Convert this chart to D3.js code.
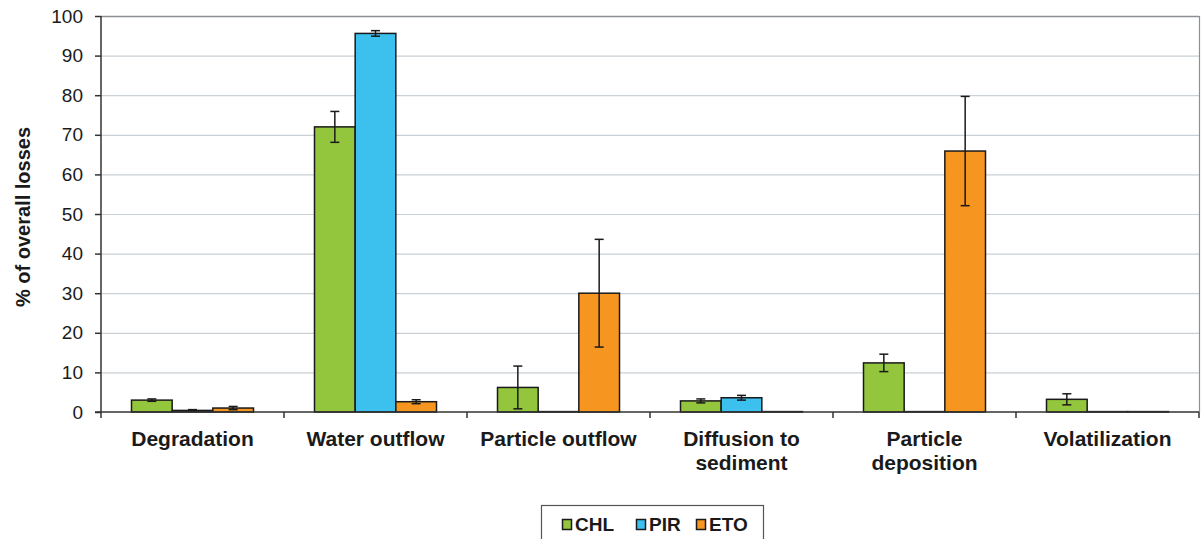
<!DOCTYPE html>
<html>
<head>
<meta charset="utf-8">
<script src="https://cdn.jsdelivr.net/npm/d3@7"></script>
<style>
  body { margin: 0; background: #fff; }
  svg { display: block; font-family: "Liberation Sans", Arial, sans-serif; }
</style>
</head>
<body>
<div id="container"></div>
<script>
// Chart data
const categories = ['Degradation', 'Water outflow', 'Particle outflow', 'Diffusion to sediment', 'Particle deposition', 'Volatilization'];
const categoryLines = [['Degradation'], ['Water outflow'], ['Particle outflow'], ['Diffusion to', 'sediment'], ['Particle', 'deposition'], ['Volatilization']];
const seriesNames = ['CHL', 'PIR', 'ETO'];
const chlValues = [3.0, 72.0, 6.2, 2.8, 12.4, 3.2];
const chlErrors = [0.3, 3.9, 5.4, 0.5, 2.2, 1.4];
const pirValues = [0.4, 95.6, 0.1, 3.6, 0.1, 0.1];
const pirErrors = [0.2, 0.7, 0, 0.6, 0, 0];
const etoValues = [1.0, 2.6, 30.0, 0.1, 65.9, 0.1];
const etoErrors = [0.4, 0.5, 13.6, 0, 13.8, 0];
const yTicks = [0, 10, 20, 30, 40, 50, 60, 70, 80, 90, 100];
const colors = ['#93c53d', '#3cc0ee', '#f6951f'];

const width = 1203;
const height = 539;

// plot area
const plot = { left: 101, right: 1199, top: 16, bottom: 412 };

const svg = d3.select('#container').append('svg')
    .attr('width', width)
    .attr('height', height);

const yScale = d3.scaleLinear()
    .domain([0, 100])
    .range([plot.bottom, plot.top]);

const xScale = d3.scaleBand()
    .domain(categories)
    .range([plot.left, plot.right]);

const seriesScale = d3.scaleBand()
    .domain(seriesNames)
    .range([0, xScale.bandwidth()])
    .paddingInner(0)
    .paddingOuter(0.75);

// gridlines
svg.append('g')
    .selectAll('line')
    .data(yTicks.filter(t => t > 0))
    .enter()
    .append('line')
    .attr('x1', plot.left)
    .attr('x2', plot.right)
    .attr('y1', d => yScale(d) + 0.5)
    .attr('y2', d => yScale(d) + 0.5)
    .attr('stroke', d => d === 100 ? '#8c8f93' : '#c9d0d6')
    .attr('stroke-width', d => d === 100 ? 1.5 : 1.2);

// right border
svg.append('line')
    .attr('x1', plot.right + 0.5).attr('x2', plot.right + 0.5)
    .attr('y1', plot.top).attr('y2', plot.bottom)
    .attr('stroke', '#8c8f93')
    .attr('stroke-width', 1.2);

// bars
const table = categories.map((c, i) => ({
    category: c,
    items: [
        { name: 'CHL', value: chlValues[i], err: chlErrors[i], color: colors[0] },
        { name: 'PIR', value: pirValues[i], err: pirErrors[i], color: colors[1] },
        { name: 'ETO', value: etoValues[i], err: etoErrors[i], color: colors[2] }
    ]
}));

const groups = svg.append('g')
    .selectAll('g')
    .data(table)
    .enter()
    .append('g')
    .attr('transform', d => 'translate(' + xScale(d.category) + ',0)');

groups.selectAll('rect')
    .data(d => d.items)
    .enter()
    .append('rect')
    .attr('x', d => seriesScale(d.name))
    .attr('y', d => yScale(d.value))
    .attr('width', seriesScale.bandwidth())
    .attr('height', d => yScale(0) - yScale(d.value))
    .attr('fill', d => d.color)
    .attr('stroke', '#1a1a1a')
    .attr('stroke-width', 1.5);

// error bars
const errs = groups.selectAll('g.err')
    .data(d => d.items.filter(e => e.err > 0))
    .enter()
    .append('g')
    .attr('class', 'err')
    .attr('stroke', '#1a1a1a')
    .attr('stroke-width', 1.5);

errs.append('line')
    .attr('x1', d => seriesScale(d.name) + seriesScale.bandwidth() / 2)
    .attr('x2', d => seriesScale(d.name) + seriesScale.bandwidth() / 2)
    .attr('y1', d => yScale(d.value + d.err))
    .attr('y2', d => yScale(Math.max(0, d.value - d.err)));

errs.selectAll('line.cap')
    .data(d => [
        { d: d, v: d.value + d.err },
        { d: d, v: Math.max(0, d.value - d.err) }
    ])
    .enter()
    .append('line')
    .attr('class', 'cap')
    .attr('x1', c => seriesScale(c.d.name) + seriesScale.bandwidth() / 2 - 4.5)
    .attr('x2', c => seriesScale(c.d.name) + seriesScale.bandwidth() / 2 + 4.5)
    .attr('y1', c => yScale(c.v))
    .attr('y2', c => yScale(c.v));

// Y-Axis
const yAxis = svg.append('g')
    .attr('transform', 'translate(' + plot.left + ',0)')
    .call(d3.axisLeft(yScale).tickValues(yTicks).tickSize(6).tickPadding(12));
yAxis.selectAll('path, line').attr('stroke', '#333').attr('stroke-width', 1.5);
yAxis.select('.domain').attr('d', 'M0,' + plot.top + 'V' + plot.bottom);
yAxis.selectAll('text')
    .attr('font-size', 19)
    .attr('font-family', '"Liberation Sans", Arial, sans-serif')
    .attr('fill', '#1a1a1a');

// X-Axis (ticks at category boundaries)
const xAxisG = svg.append('g');
xAxisG.append('line')
    .attr('x1', plot.left - 6).attr('x2', plot.right)
    .attr('y1', plot.bottom).attr('y2', plot.bottom)
    .attr('stroke', '#333').attr('stroke-width', 1.5);
xAxisG.selectAll('line.tick')
    .data(categories.map(c => xScale(c)).concat([plot.right]))
    .enter()
    .append('line')
    .attr('class', 'tick')
    .attr('x1', d => d).attr('x2', d => d)
    .attr('y1', plot.bottom).attr('y2', plot.bottom + 6)
    .attr('stroke', '#333').attr('stroke-width', 1.5);

// category labels
const labels = svg.append('g')
    .selectAll('text')
    .data(categories)
    .enter()
    .append('text')
    .attr('x', d => xScale(d) + xScale.bandwidth() / 2)
    .attr('y', 446)
    .attr('text-anchor', 'middle')
    .attr('font-size', 21)
    .attr('font-weight', 'bold')
    .attr('fill', '#1a1a1a');
labels.selectAll('tspan')
    .data((d, i) => categoryLines[i])
    .enter()
    .append('tspan')
    .attr('x', function () { return this.parentNode.getAttribute('x'); })
    .attr('dy', (d, i) => i === 0 ? 0 : 24)
    .text(d => d);

// Y-Axis title
svg.append('text')
    .attr('transform', 'translate(30,' + ((plot.top + plot.bottom) / 2 + 3) + ') rotate(-90)')
    .attr('text-anchor', 'middle')
    .attr('font-size', 20)
    .attr('font-weight', 'bold')
    .attr('fill', '#1a1a1a')
    .text('% of overall losses');

// Legend
const legend = svg.append('g');
legend.append('rect')
    .attr('x', 541.5).attr('y', 505.5)
    .attr('width', 222).attr('height', 45)
    .attr('fill', '#fff')
    .attr('stroke', '#555')
    .attr('stroke-width', 1.2);
const legendX = [562, 636, 696];
seriesNames.forEach((s, i) => {
    legend.append('rect')
        .attr('x', legendX[i] + 0.5).attr('y', 519.5)
        .attr('width', 9).attr('height', 10)
        .attr('fill', colors[i])
        .attr('stroke', '#1a1a1a')
        .attr('stroke-width', 1.5);
    legend.append('text')
        .attr('x', legendX[i] + 13)
        .attr('y', 531)
        .attr('font-size', 19)
        .attr('font-weight', 'bold')
        .attr('fill', '#1a1a1a')
        .text(s);
});
</script>
</body>
</html>
